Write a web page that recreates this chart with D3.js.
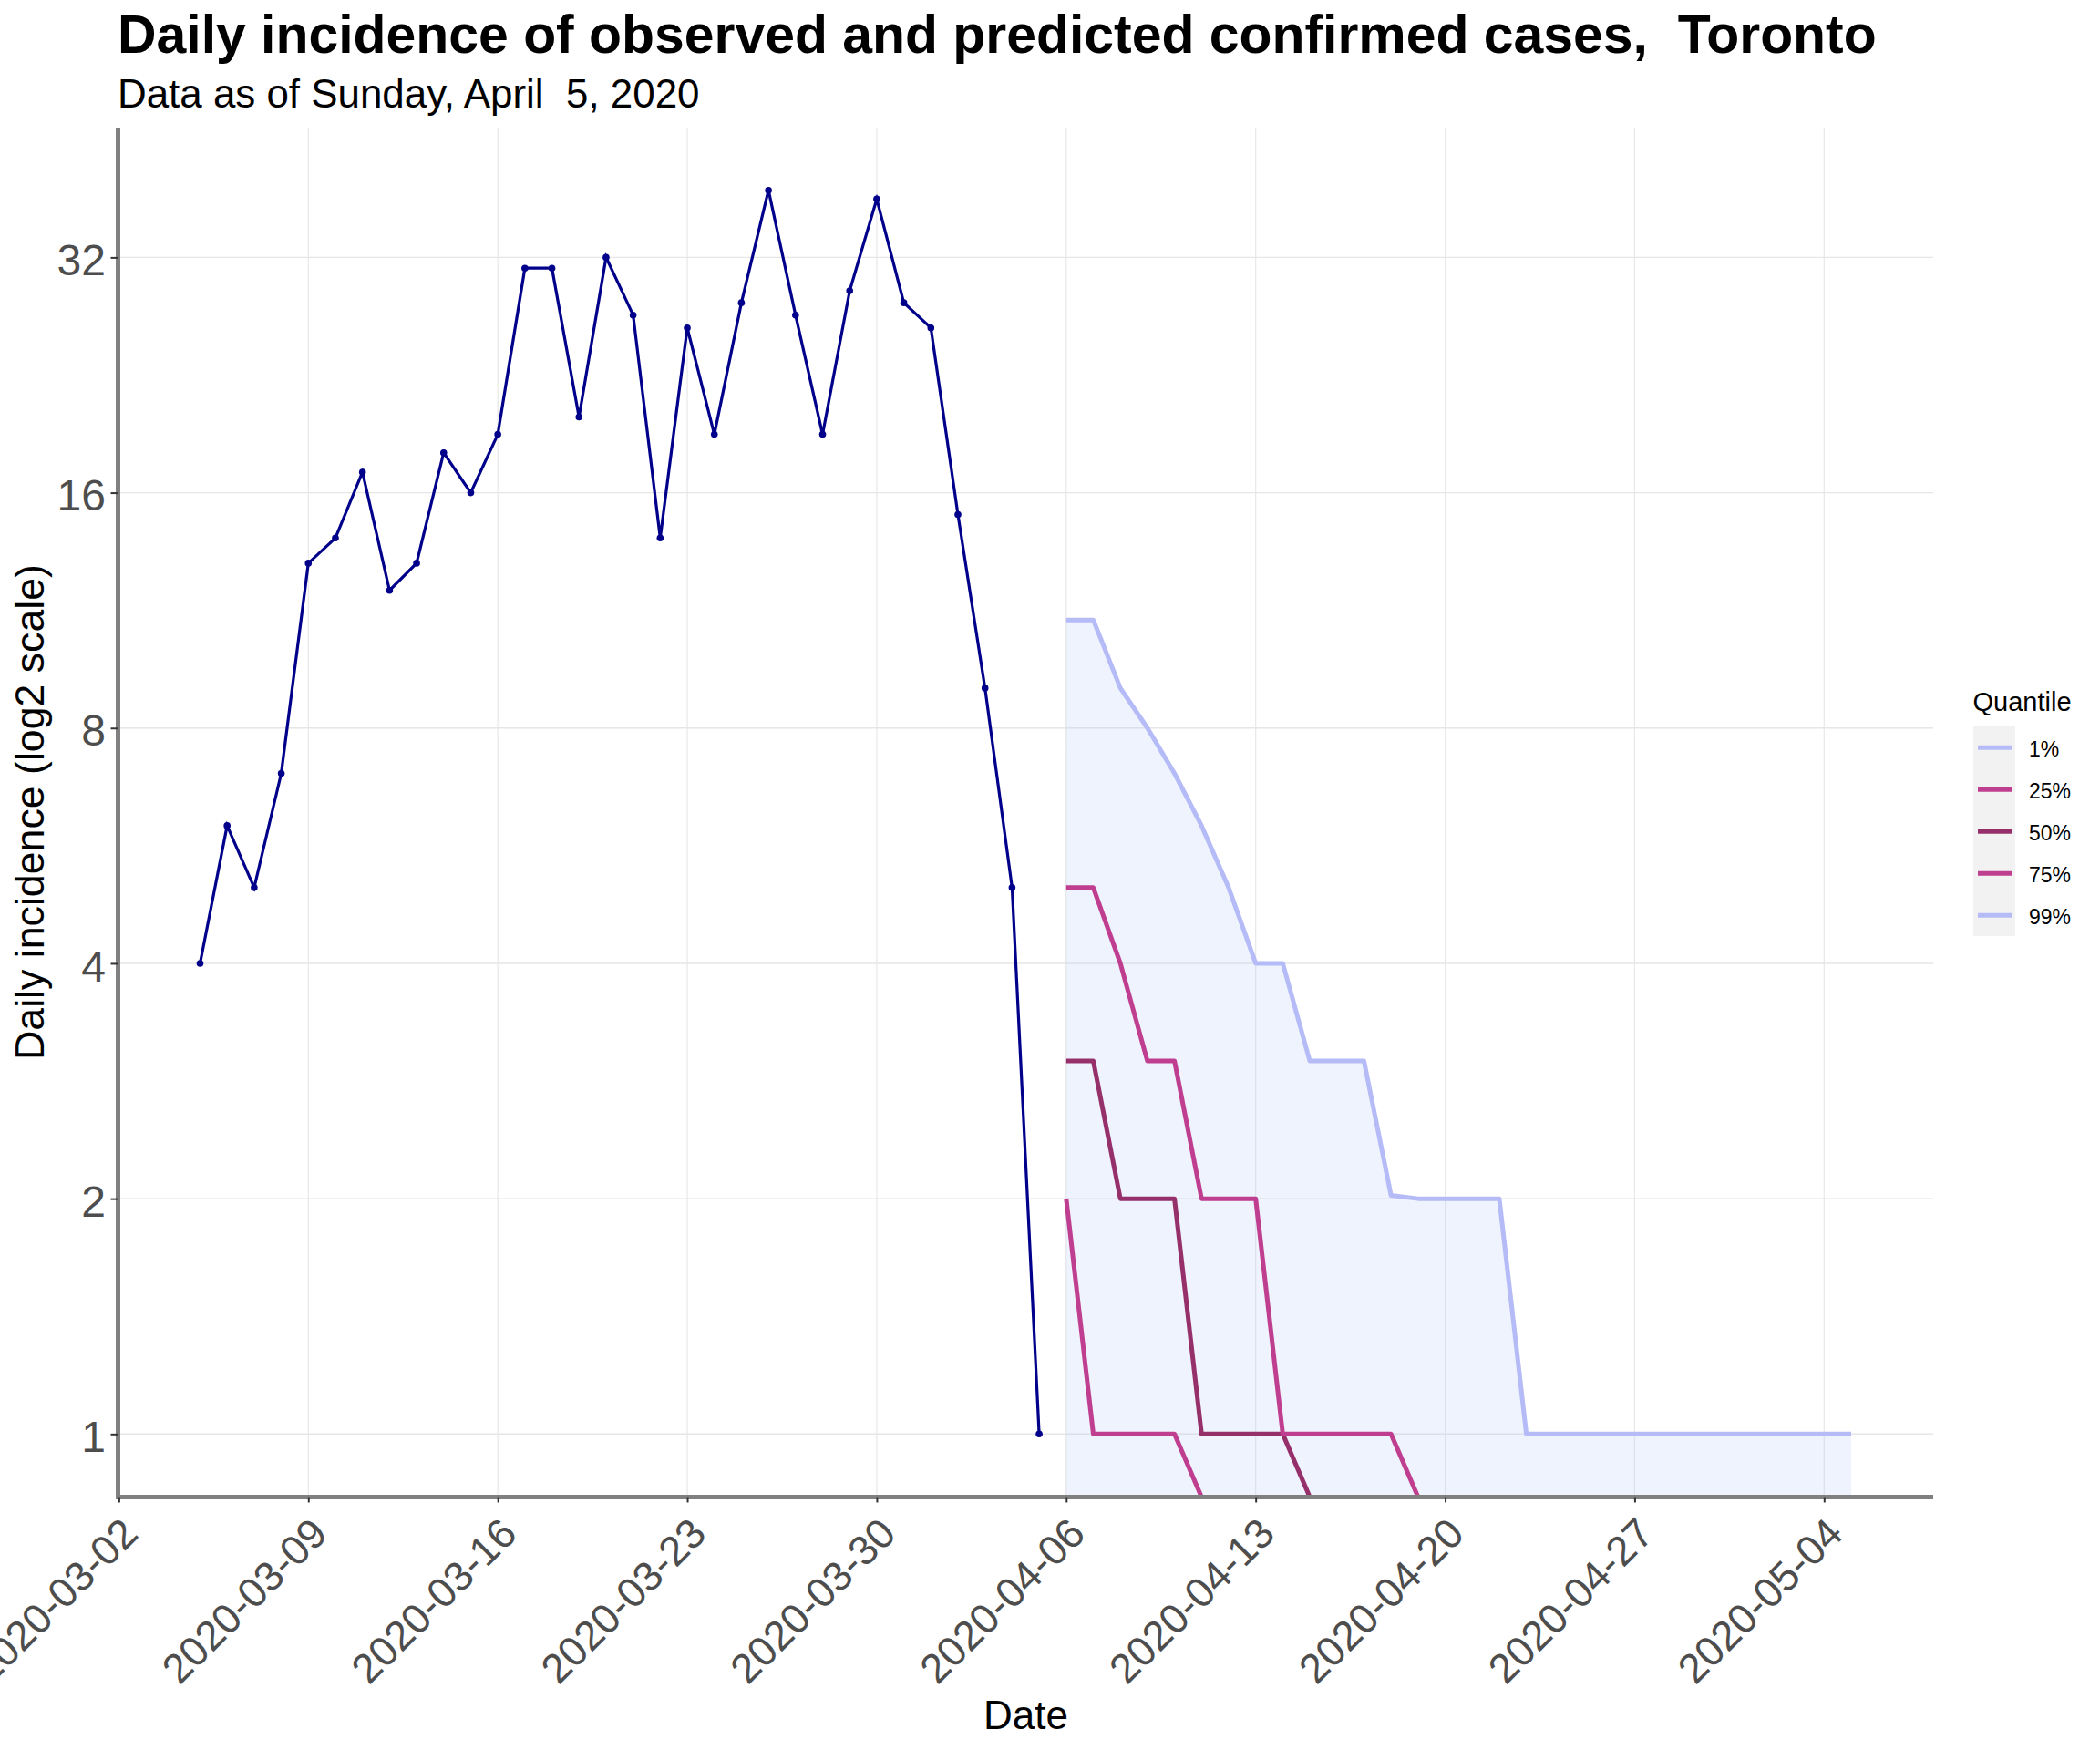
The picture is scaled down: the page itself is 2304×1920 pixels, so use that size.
<!DOCTYPE html>
<html>
<head>
<meta charset="utf-8">
<script src="https://cdn.jsdelivr.net/npm/d3@7"></script>
<style>
  body { margin: 0; background: #fff; }
  svg { display: block; font-family: "Liberation Sans", Arial, sans-serif; }
</style>
</head>
<body>
<svg width="2304" height="1920"></svg>
<script>
const observedDates = ["2020-03-05","2020-03-06","2020-03-07","2020-03-08","2020-03-09","2020-03-10","2020-03-11","2020-03-12","2020-03-13","2020-03-14","2020-03-15","2020-03-16","2020-03-17","2020-03-18","2020-03-19","2020-03-20","2020-03-21","2020-03-22","2020-03-23","2020-03-24","2020-03-25","2020-03-26","2020-03-27","2020-03-28","2020-03-29","2020-03-30","2020-03-31","2020-04-01","2020-04-02","2020-04-03","2020-04-04","2020-04-05"];
const observedCases = [4,6,5,7,13,14,17,12,13,18,16,19,31,31,20,32,27,14,26,19,28,39,27,19,29,38,28,26,15,9,5,1];

const forecastDates = ["2020-04-06","2020-04-07","2020-04-08","2020-04-09","2020-04-10","2020-04-11","2020-04-12","2020-04-13","2020-04-14","2020-04-15","2020-04-16","2020-04-17","2020-04-18","2020-04-19","2020-04-20","2020-04-21","2020-04-22","2020-04-23","2020-04-24","2020-04-25","2020-04-26","2020-04-27","2020-04-28","2020-04-29","2020-04-30","2020-05-01","2020-05-02","2020-05-03","2020-05-04","2020-05-05"];
const q01 = [0,0,0,0,0,0,0,0,0,0,0,0,0,0,0,0,0,0,0,0,0,0,0,0,0,0,0,0,0,0];
const q25 = [2,1,1,1,1,0,0,0,0,0,0,0,0,0,0,0,0,0,0,0,0,0,0,0,0,0,0,0,0,0];
const q50 = [3,3,2,2,2,1,1,1,1,0,0,0,0,0,0,0,0,0,0,0,0,0,0,0,0,0,0,0,0,0];
const q75 = [5,5,4,3,3,2,2,2,1,1,1,1,1,0,0,0,0,0,0,0,0,0,0,0,0,0,0,0,0,0];
const q99 = [11,11,9,8,7,6,5,4,4,3,3,3,2.02,2,2,2,2,1,1,1,1,1,1,1,1,1,1,1,1,1];

const xTicks = ["2020-03-02","2020-03-09","2020-03-16","2020-03-23","2020-03-30","2020-04-06","2020-04-13","2020-04-20","2020-04-27","2020-05-04"];
const yTicks = [1,2,4,8,16,32];
const quantileLabels = ["1%","25%","50%","75%","99%"];
const quantileColors = ["#b5bbf6","#bf3e8f","#96306b","#bf3e8f","#b5bbf6"];
const quantileSeries = [q01,q25,q50,q75,q99];

const parse = d3.utcParse("%Y-%m-%d");
const svg = d3.select("svg");

const panelLeft = 129.5, panelRight = 2121, panelTop = 140, panelBottom = 1642.5;

const x = d3.scaleUtc()
  .domain([parse("2020-03-02"), parse("2020-05-04")])
  .range([130.4, 2001.3]);

// log2 axis, zero values get squished onto the bottom of the panel
const y = d3.scaleLog().base(2)
  .domain([0.8305, 46.9])
  .range([panelBottom, panelTop])
  .clamp(true);

// grid
svg.append("g").selectAll("line").data(xTicks).enter().append("line")
  .attr("x1", d => x(parse(d))).attr("x2", d => x(parse(d)))
  .attr("y1", panelTop).attr("y2", panelBottom)
  .attr("stroke", "#e8e8e8").attr("stroke-width", 1.2);
svg.append("g").selectAll("line").data(yTicks).enter().append("line")
  .attr("x1", panelLeft).attr("x2", panelRight)
  .attr("y1", d => y(d)).attr("y2", d => y(d))
  .attr("stroke", "#e6e6e6").attr("stroke-width", 1.4);

// ribbon between 1% and 99%
const ribbon = d3.area()
  .x(d => x(parse(d)))
  .y0((d, i) => y(q01[i]))
  .y1((d, i) => y(q99[i]));
svg.append("path").datum(forecastDates)
  .attr("d", ribbon)
  .attr("fill", "#b5c7fa").attr("fill-opacity", 0.22);

const qLine = d3.line()
  .x((d, i) => x(parse(forecastDates[i])))
  .y(d => y(d));
svg.append("g").selectAll("path").data(quantileSeries).enter().append("path")
  .attr("d", qLine)
  .attr("fill", "none")
  .attr("stroke", (d, i) => quantileColors[i])
  .attr("stroke-width", 5)
  .attr("stroke-linejoin", "round");

// observed
const obsLine = d3.line()
  .x((d, i) => x(parse(observedDates[i])))
  .y(d => y(d));
svg.append("path").datum(observedCases)
  .attr("d", obsLine)
  .attr("fill", "none")
  .attr("stroke", "#00008b")
  .attr("stroke-width", 3.2);
svg.append("g").selectAll("circle").data(observedCases).enter().append("circle")
  .attr("cx", (d, i) => x(parse(observedDates[i])))
  .attr("cy", d => y(d))
  .attr("r", 3.8)
  .attr("fill", "#00008b");

// axis lines go under the ticks
svg.append("line").attr("x1", panelLeft).attr("x2", panelLeft)
  .attr("y1", panelTop).attr("y2", panelBottom + 2.5)
  .attr("stroke", "#808080").attr("stroke-width", 5);
svg.append("line").attr("x1", panelLeft - 2.5).attr("x2", panelRight)
  .attr("y1", panelBottom).attr("y2", panelBottom)
  .attr("stroke", "#808080").attr("stroke-width", 5);

// axes
const xAxis = d3.axisBottom(x)
  .tickValues(xTicks.map(parse))
  .tickFormat(d3.utcFormat("%Y-%m-%d"))
  .tickSize(6).tickSizeOuter(0);
const gx = svg.append("g").attr("transform", `translate(0,${panelBottom})`).call(xAxis);
gx.select(".domain").remove();
gx.selectAll("line").attr("stroke", "#333").attr("stroke-width", 2);
gx.selectAll("text")
  .attr("font-size", 45.5).attr("fill", "#4d4d4d")
  .attr("text-anchor", "end")
  .attr("transform", "translate(22.7,42.5) rotate(-45)")
  .attr("x", 0).attr("y", 0).attr("dy", 0);

const yAxis = d3.axisLeft(y)
  .tickValues(yTicks)
  .tickFormat(d3.format("d"))
  .tickSize(8).tickSizeOuter(0);
const gy = svg.append("g").attr("transform", `translate(${panelLeft},0)`).call(yAxis);
gy.select(".domain").remove();
gy.selectAll("line").attr("stroke", "#333").attr("stroke-width", 2);
gy.selectAll("text")
  .attr("font-size", 48).attr("fill", "#4d4d4d")
  .attr("x", -13.5).attr("dy", "0.4em");

// titles
svg.append("text").attr("x", 129).attr("y", 58)
  .attr("font-size", 58.9).attr("font-weight", "bold").attr("fill", "#000")
  .style("white-space", "pre")
  .text("Daily incidence of observed and predicted confirmed cases,  Toronto");
svg.append("text").attr("x", 129).attr("y", 117.5)
  .attr("font-size", 43.9).attr("fill", "#000")
  .style("white-space", "pre")
  .text("Data as of Sunday, April  5, 2020");
svg.append("text").attr("x", 1125.5).attr("y", 1896.5)
  .attr("font-size", 44).attr("text-anchor", "middle").attr("fill", "#000")
  .text("Date");
svg.append("text").attr("transform", "translate(48.3,891) rotate(-90)")
  .attr("font-size", 44.7).attr("text-anchor", "middle").attr("fill", "#000")
  .text("Daily incidence (log2 scale)");

// legend
const legend = svg.append("g");
legend.append("text").attr("x", 2164.5).attr("y", 780)
  .attr("font-size", 29).attr("fill", "#000").text("Quantile");
legend.append("rect").attr("x", 2165).attr("y", 797)
  .attr("width", 46).attr("height", 230).attr("fill", "#f2f2f2");
const keyY = d3.scalePoint().domain(quantileLabels).range([820.3, 1004.3]);
legend.selectAll("line").data(quantileLabels).enter().append("line")
  .attr("x1", 2170).attr("x2", 2207)
  .attr("y1", d => keyY(d)).attr("y2", d => keyY(d))
  .attr("stroke", (d, i) => quantileColors[i]).attr("stroke-width", 5);
legend.selectAll("text.key").data(quantileLabels).enter().append("text")
  .attr("class", "key")
  .attr("x", 2226).attr("y", d => keyY(d) + 10)
  .attr("font-size", 23).attr("fill", "#000")
  .text(d => d);
</script>
</body>
</html>
